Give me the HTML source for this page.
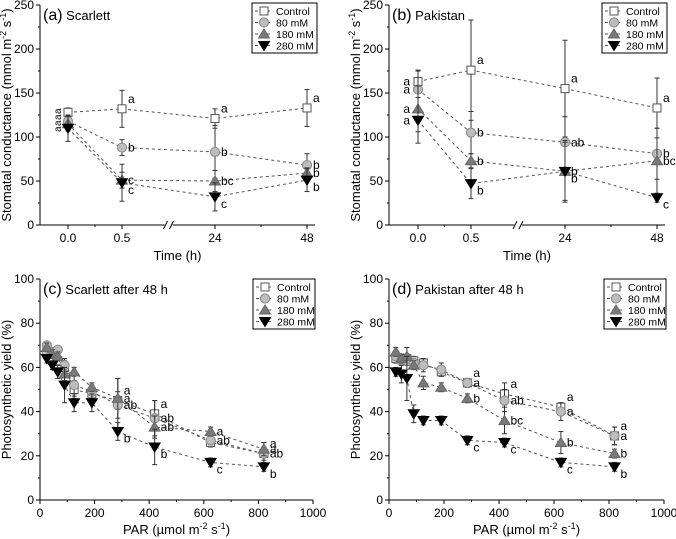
<!DOCTYPE html>
<html><head><meta charset="utf-8">
<style>
body{margin:0;background:#fff;}
svg{display:block;font-family:"Liberation Sans",Arial,sans-serif;}
</style></head>
<body>
<svg id="fig" width="676" height="539" viewBox="0 0 676 539" xmlns="http://www.w3.org/2000/svg"></svg>
<script>
// ---- data ----
const seriesNames = ["Control","80 mM","180 mM","280 mM"];
const timeCats = [0, 0.5, 24, 48];
const timeLabels = ["0.0","0.5","24","48"];
const aCtrl = [128,132,121,133], aCtrlErr = [5,21,11,21];
const a80 = [118,88,83,68], a80Err = [6,9,30,13];
const a180 = [115,51,50,59], a180Err = [8,9,12,6];
const a280 = [110,48,32,51], a280Err = [15,21,16,13];
const aLetters = [["","a","a","a"],["","b","b","b"],["","c","bc","b"],["","c","c","b"]];
const bCtrl = [163,176,155,133], bCtrlErr = [12,57,55,34];
const b80 = [154,105,94,81], b80Err = [22,24,29,29];
const b180 = [132,73,61,73], b180Err = [26,8,35,37];
const b280 = [119,47,61,31], b280Err = [26,17,33,5];
const bLetters = [["a","a","a","a"],["a","b","ab","b"],["a","b","b","bc"],["a","b","b","c"]];
const parVals = [25,45,65,90,125,190,285,420,625,820];
const cCtrl = [67,66,63,60,50,48,45,39,26,21], cCtrlErr=[2,2,2,3,4,3,4,6,2,3];
const c80 = [70,67,68,61,52,49,43,37,27,21], c80Err=[1,2,1,3,5,3,12,8,2,5];
const c180 = [69,66,65,57,58,51,46,33,31,23], c180Err=[2,2,2,3,2,2,9,5,2,3];
const c280 = [64,61,58,52,44,44,31,24,17,15], c280Err=[2,2,3,8,4,4,4,8,2,2];
const cLetters = [["","","","","","","a","a","","a"],["","","","","","","ab","ab","ab","ab"],["","","","","","","a","ab","a","a"],["","","","","","","b","b","c","b"]];
const dCtrl = [64,64,64,63,62,58,53,48,42,29], dCtrlErr=[2,2,2,2,2,2,2,5,2,4];
const d80 = [65,63,64,62,61,59,53,45,40,29], d80Err=[2,2,2,2,3,3,2,5,4,4];
const d180 = [67,64,65,61,53,51,46,36,26,21], d180Err=[2,2,4,2,3,2,2,6,5,2];
const d280 = [58,57,55,39,36,36,27,26,17,15], d280Err=[2,4,10,4,2,2,2,2,2,2];
const dLetters = [["","","","","","","a","a","a","a"],["","","","","","","a","ab","a","a"],["","","","","","","b","bc","b","b"],["","","","","","","c","c","c","b"]];

const NS="http://www.w3.org/2000/svg";
const svg=document.getElementById('fig');
function el(tag,attrs,parent,text){const e=document.createElementNS(NS,tag);for(const k in attrs)e.setAttribute(k,attrs[k]);if(text!==undefined)e.textContent=text;(parent||svg).appendChild(e);return e;}

const styles=[{fill:"#fff",stroke:"#555"},{fill:"#bdbdbd",stroke:"#888"},{fill:"#7a7a7a",stroke:"#666"},{fill:"#000",stroke:"#000"}];
function marker(g,shape,x,y){
  const s=styles[shape];let m;
  if(shape===0)m=el('rect',{x:x-4,y:y-4,width:8,height:8,fill:s.fill,stroke:s.stroke,'stroke-width':1},g);
  else if(shape===1)m=el('circle',{cx:x,cy:y,r:4.6,fill:s.fill,stroke:s.stroke,'stroke-width':1},g);
  else if(shape===2)m=el('polygon',{points:`${x},${y-5} ${x-5.5},${y+4} ${x+5.5},${y+4}`,fill:s.fill,stroke:s.stroke,'stroke-width':1},g);
  else m=el('polygon',{points:`${x},${y+5} ${x-5.5},${y-4} ${x+5.5},${y-4}`,fill:s.fill,stroke:s.stroke,'stroke-width':1},g);
  return m;
}

function panel(opt){
  const g=el('g',{});
  
  
  const {L,R,T,B,ymax,xs,ys}=opt;
  const ax=el('line',{x1:L,y1:B,x2:R,y2:B,stroke:"#000",'stroke-width':1},g);
  
  const ay=el('line',{x1:L,y1:B,x2:L,y2:T,stroke:"#000",'stroke-width':1},g);
  
  for(let v=0;v<=ymax;v+=opt.yMinor){
    const major=(v%opt.yMajor===0);
    el('line',{x1:L-(major?4:2),y1:ys(v),x2:L,y2:ys(v),stroke:"#000"},g);
    if(major){const t=el('text',{x:L-6,y:ys(v)+4,'text-anchor':'end','font-size':12},g,String(v));
      }
  }
  opt.xticks(g);
  const yt=el('text',{x:0,y:0,'font-size':13,'text-anchor':'middle',transform:`translate(${opt.ytX},${(T+B)/2}) rotate(-90)`},g);
  
  yt.innerHTML=opt.yTitle;
  const xt=el('text',{x:(L+R)/2,y:opt.xtY,'font-size':13,'text-anchor':'middle'},g);
  
  xt.innerHTML=opt.xTitle;
  const pt=el('text',{x:L+3,y:T+15,'font-size':13},g);
  
  pt.innerHTML=`<tspan font-size="16">${opt.label}</tspan> ${opt.title}`;
  opt.series.forEach((s,si)=>{
    const sg=el('g',{},g);
    
    
    const pts=s.vals.map((v,i)=>[xs(opt.xvals[i]),ys(v)]);
    el('polyline',{points:pts.map(p=>p.join(',')).join(' '),fill:'none',stroke:'#555','stroke-width':1,'stroke-dasharray':'3,3'},sg);
    s.vals.forEach((v,i)=>{
      const x=xs(opt.xvals[i]),e=s.err[i];
      el('line',{x1:x,y1:ys(v+e),x2:x,y2:ys(v-e),stroke:"#333",'stroke-width':1},sg);
      el('line',{x1:x-2.5,y1:ys(v+e),x2:x+2.5,y2:ys(v+e),stroke:"#333"},sg);
      el('line',{x1:x-2.5,y1:ys(v-e),x2:x+2.5,y2:ys(v-e),stroke:"#333"},sg);
    });
    s.vals.forEach((v,i)=>{
      const m=marker(sg,si,xs(opt.xvals[i]),ys(v));
      
      
      const lt=s.letters[i];
      if(lt){
        let dy=si===0?-6:(si===3?11:4), dx=6, anchor='start';
        if(opt.leftFirst&&i===0){dx=-8;anchor='end';dy=4;}
        const t=el('text',{x:xs(opt.xvals[i])+dx,y:ys(v)+dy,'font-size':12,'text-anchor':anchor},sg,lt);
        }
    });
  });
  const lg=el('g',{},g);
  
  el('rect',{x:opt.lgX,y:opt.lgY,width:R-opt.lgX+2,height:50,fill:'#fff',stroke:'#000','stroke-width':1},lg);
  seriesNames.forEach((n,i)=>{
    const y=opt.lgY+8+i*11.5;
    const e=el('g',{},lg);
    
    el('line',{x1:opt.lgX+3,y1:y,x2:opt.lgX+20,y2:y,stroke:'#555','stroke-dasharray':'3,3'},e);
    marker(e,i,opt.lgX+12,y);
    el('text',{x:opt.lgX+24,y:y+4,'font-size':10.5},e,n);
  });
}

function timePanel(ox,name,label,title,data,letters,x0,x05,x24,x48,leftFirst){
  const B=225,T=5;
  const ys=v=>B-v*(B-T)/250;
  const xs=t=>t<=0.5?x0+t*(x05-x0)/0.5:x24+(t-24)*(x48-x24)/24;
  panel({name,L:ox,R:x48+8,T,B,ymax:250,yMajor:50,yMinor:25,xs,ys,xvals:timeCats,leftFirst,
    ytX:ox-29,xtY:260,label,title,
    yTitle:'Stomatal conductance (mmol m<tspan dy="-5" font-size="9">-2</tspan><tspan dy="5"> s</tspan><tspan dy="-5" font-size="9">-1</tspan><tspan dy="5">)</tspan>',
    xTitle:'Time (h)',lgX:x48-55,lgY:3,
    series:data.map((d,i)=>({vals:d[0],err:d[1],letters:letters[i]})),
    xticks:(g)=>{
      timeCats.forEach((t,i)=>{el('line',{x1:xs(t),y1:B,x2:xs(t),y2:B+4,stroke:'#000'},g);
        const tl=el('text',{x:xs(t),y:B+17,'font-size':12,'text-anchor':'middle'},g,timeLabels[i]);
        });
      [0.25,36].forEach(t=>el('line',{x1:xs(t),y1:B,x2:xs(t),y2:B+2,stroke:'#000'},g));
      const bx=(x05+x24)/2;
      el('rect',{x:bx-4,y:B-3,width:8,height:6,fill:'#fff'},g);
      el('line',{x1:bx-5,y1:B+4,x2:bx-1,y2:B-4,stroke:'#000'},g);
      el('line',{x1:bx+1,y1:B+4,x2:bx+5,y2:B-4,stroke:'#000'},g);
    }});
}
function parPanel(ox,xEnd,name,label,title,data,letters){
  const B=500,T=279;
  const ys=v=>B-v*(B-T)/100;
  const xs=v=>ox+v*(xEnd-ox)/1000;
  panel({name,L:ox,R:xEnd,T,B,ymax:100,yMajor:20,yMinor:10,xs,ys,xvals:parVals,
    ytX:ox-29,xtY:534,label,title,
    yTitle:'Photosynthetic yield (%)',
    xTitle:'PAR (µmol m<tspan dy="-5" font-size="9">-2</tspan><tspan dy="5"> s</tspan><tspan dy="-5" font-size="9">-1</tspan><tspan dy="5">)</tspan>',
    lgX:xEnd-60,lgY:279,
    series:data.map((d,i)=>({vals:d[0],err:d[1],letters:letters[i]})),
    xticks:(g)=>{
      for(let v=0;v<=1000;v+=100){const maj=v%200===0;
        el('line',{x1:xs(v),y1:B,x2:xs(v),y2:B+(maj?4:2),stroke:'#000'},g);
        if(maj){const tl=el('text',{x:xs(v),y:B+17,'font-size':12,'text-anchor':'middle'},g,String(v));
          }}
    }});
}
timePanel(40,'panel-a-scarlett','(a)','Scarlett',[[aCtrl,aCtrlErr],[a80,a80Err],[a180,a180Err],[a280,a280Err]],aLetters,68,122,215,307,false);
timePanel(389,'panel-b-pakistan','(b)','Pakistan',[[bCtrl,bCtrlErr],[b80,b80Err],[b180,b180Err],[b280,b280Err]],bLetters,418,471,565,657,true);
for(let i=0;i<4;i++){const t=el('text',{x:0,y:0,'font-size':10,transform:`translate(${61},${132-i*6}) rotate(-90)`},svg,'a');
  }
parPanel(40,313,'panel-c-scarlett-48h','(c)','Scarlett after 48 h',[[cCtrl,cCtrlErr],[c80,c80Err],[c180,c180Err],[c280,c280Err]],cLetters);
parPanel(389,664,'panel-d-pakistan-48h','(d)','Pakistan after 48 h',[[dCtrl,dCtrlErr],[d80,d80Err],[d180,d180Err],[d280,d280Err]],dLetters);
</script>
</body></html>
